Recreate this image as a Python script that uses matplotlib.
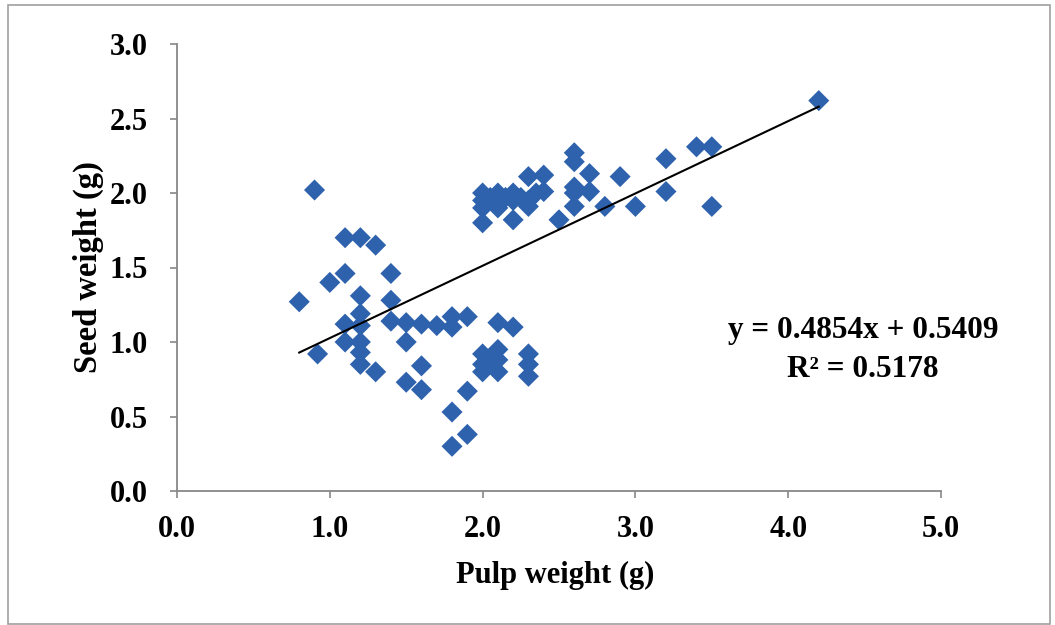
import matplotlib
matplotlib.use("Agg")
import matplotlib.pyplot as plt
from matplotlib.patches import Rectangle
import numpy as np

pulp = [0.8, 0.9, 0.92, 1.0, 1.1, 1.2, 1.3, 1.1, 1.2, 1.4, 1.4,
        1.1, 1.1, 1.2, 1.2, 1.2, 1.2, 1.2, 1.3, 1.4, 1.5, 1.5,
        1.6, 1.7, 1.8, 1.8, 1.9, 1.5, 1.6, 1.6, 1.8, 1.8, 1.9, 1.9,
        2.0, 2.0, 2.0, 2.1, 2.1, 2.05, 2.1, 2.1, 2.2, 2.3, 2.3, 2.3,
        2.0, 2.0, 2.0, 2.0, 2.05, 2.1, 2.1, 2.1, 2.15, 2.2, 2.2, 2.2,
        2.25, 2.3, 2.3, 2.3, 2.35, 2.4, 2.4,
        2.5, 2.6, 2.6, 2.6, 2.6, 2.6, 2.7, 2.7, 2.8, 2.9, 3.0,
        3.2, 3.2, 3.4, 3.5, 3.5, 4.2]
seed = [1.27, 2.02, 0.92, 1.40, 1.70, 1.70, 1.65, 1.46, 1.31, 1.46, 1.28,
        1.12, 1.00, 1.19, 1.11, 1.00, 0.93, 0.85, 0.80, 1.14, 1.13, 1.00,
        1.12, 1.11, 1.10, 1.17, 1.17, 0.73, 0.84, 0.68, 0.53, 0.30, 0.38, 0.67,
        0.92, 0.85, 0.80, 0.80, 0.95, 0.88, 0.88, 1.13, 1.10, 0.92, 0.85, 0.77,
        2.00, 1.95, 1.90, 1.80, 1.97, 2.00, 1.95, 1.90, 1.97, 2.00, 1.95, 1.82,
        1.97, 2.11, 1.95, 1.91, 2.00, 2.12, 2.01,
        1.82, 2.27, 2.21, 2.04, 2.00, 1.91, 2.13, 2.01, 1.91, 2.11, 1.91,
        2.23, 2.01, 2.31, 2.31, 1.91, 2.62]

slope = 0.4854
intercept = 0.5409
r2 = 0.5178

x_ticks = [0.0, 1.0, 2.0, 3.0, 4.0, 5.0]
y_ticks = [0.0, 0.5, 1.0, 1.5, 2.0, 2.5, 3.0]

W, H = 1055, 625
fig = plt.figure(figsize=(W / 100, H / 100), dpi=100)
fig.patch.set_facecolor("white")
fig.add_artist(Rectangle((8 / W, 1 / H), 1042 / W, 619 / H, transform=fig.transFigure,
                         fill=False, edgecolor="#a0a0a0", linewidth=1.2))

ax = fig.add_axes([177 / W, 1 - 491 / H, (941 - 177) / W, (491 - 44) / H])
ax.set_xlim(0, 5)
ax.set_ylim(0, 3)

ax.scatter(pulp, seed, marker="D", s=115, color="#2E62AD", edgecolors="none", zorder=3)
xl = np.array([min(pulp), max(pulp)])
ax.plot(xl, slope * xl + intercept, color="black", linewidth=1.5, zorder=4)

serif = ["Liberation Serif", "DejaVu Serif"]
ax.text(4.49, 1.027, f"y = {slope}x + {intercept}", ha="center", va="baseline",
        fontsize=22.5, fontweight="bold", family=serif)
ax.text(4.49, 0.765, f"R² = {r2}", ha="center", va="baseline",
        fontsize=22.5, fontweight="bold", family=serif)

ax.set_xticks(x_ticks)
ax.set_yticks(y_ticks)
ax.set_xticklabels([f"{v:.1f}" for v in x_ticks], fontsize=22, fontweight="bold", family=serif)
ax.set_yticklabels([f"{v:.1f}" for v in y_ticks], fontsize=22, fontweight="bold", family=serif)
ax.tick_params(axis="y", direction="out", length=5, width=1.2, color="#888888", pad=16)
ax.tick_params(axis="x", direction="out", length=5, width=1.2, color="#888888", pad=12)

for s in ["top", "right"]:
    ax.spines[s].set_visible(False)
for s in ["left", "bottom"]:
    ax.spines[s].set_color("#888888")
    ax.spines[s].set_linewidth(1.3)

fig.text(555.5 / W, 1 - 575 / H, "Pulp weight (g)", ha="center", va="center",
         fontsize=22, fontweight="bold", family=serif)
fig.text(88 / W, 1 - 267 / H, "Seed weight (g)", ha="center", va="center", rotation=90,
         fontsize=23.5, fontweight="bold", family=serif)

fig.savefig("out.png", dpi=100, facecolor="white")
